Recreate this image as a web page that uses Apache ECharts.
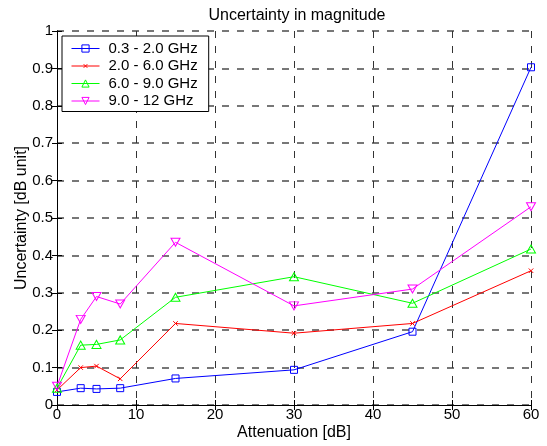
<!DOCTYPE html>
<html>
<head>
<meta charset="utf-8">
<script src="https://cdn.jsdelivr.net/npm/echarts@6/dist/echarts.min.js"></script>
<style>html,body{margin:0;padding:0;background:#fff;}#c{width:547px;height:446px;}</style>
</head>
<body>
<div id="c"></div>
<script>
const attenuation = [0, 3, 5, 8, 15, 30, 45, 60];
const band1 = [0.035, 0.045, 0.043, 0.045, 0.071, 0.094, 0.196, 0.903];
const band2 = [0.040, 0.100, 0.104, 0.070, 0.218, 0.192, 0.218, 0.359];
const band3 = [0.045, 0.160, 0.162, 0.174, 0.288, 0.343, 0.272, 0.417];
const band4 = [0.050, 0.229, 0.290, 0.270, 0.435, 0.265, 0.310, 0.530];
const seriesNames = ['0.3 - 2.0 GHz', '2.0 - 6.0 GHz', '6.0 - 9.0 GHz', '9.0 - 12 GHz'];

const font = 'Liberation Sans, Arial, sans-serif';
const chart = echarts.init(document.getElementById('c'));

function mk(name, vals, color, symbol, size) {
  return {
    name: name, type: 'line', xAxisIndex: 0, yAxisIndex: 0,
    data: attenuation.map((x, i) => [x, vals[i]]),
    symbol: symbol, symbolSize: size, showAllSymbol: true,
    lineStyle: { color: color, width: 1 },
    itemStyle: { color: 'rgba(255,255,255,0)', borderColor: color, borderWidth: 1 },
    emphasis: { disabled: true },
    animation: false, z: 3
  };
}

const axisCommon = {
  axisLine: { show: true, lineStyle: { color: '#000', width: 1 } },
  axisTick: { show: true, inside: true, length: 5, lineStyle: { color: '#000' } }
};

chart.setOption({
  animation: false,
  backgroundColor: '#fff',
  title: {
    text: 'Uncertainty in magnitude', left: 292, top: 3, textAlign: 'center',
    textStyle: { fontFamily: font, fontSize: 16, fontWeight: 'normal', color: '#000' }
  },
  legend: {
    left: 62, top: 36, orient: 'vertical', itemGap: 2.5, itemWidth: 28, itemHeight: 9,
    padding: [5, 11, 3, 9],
    borderColor: '#000', borderWidth: 1, backgroundColor: '#fff',
    lineStyle: { width: 1 },
    itemStyle: { borderWidth: 1 },
    textStyle: { fontFamily: font, fontSize: 15, color: '#000', padding: [0, 0, 0, 4] },
    data: seriesNames
  },
  grid: { left: 57, right: 16, top: 31, bottom: 41, containLabel: false },
  xAxis: [
    Object.assign({
      type: 'value', min: 0, max: 60, interval: 10, position: 'bottom',
      name: 'Attenuation [dB]', nameLocation: 'middle', nameGap: 20, nameMoveOverlap: false,
      nameTextStyle: { fontFamily: font, fontSize: 16, color: '#000' },
      axisLabel: { fontFamily: font, fontSize: 15, color: '#000', margin: 2 },
      splitLine: { show: true, lineStyle: { color: '#333', type: [7, 8], width: 1 } }
    }, axisCommon),
    Object.assign({
      type: 'value', min: 0, max: 60, interval: 10, position: 'top',
      axisLabel: { show: false }, splitLine: { show: false }
    }, axisCommon)
  ],
  yAxis: [
    Object.assign({
      type: 'value', min: 0, max: 1, interval: 0.1, position: 'left',
      name: 'Uncertainty [dB unit]', nameLocation: 'middle', nameGap: 27, nameMoveOverlap: false,
      nameTextStyle: { fontFamily: font, fontSize: 16, color: '#000' },
      axisLabel: { fontFamily: font, fontSize: 15, color: '#000', margin: 4 },
      splitLine: { show: true, lineStyle: { color: '#777', type: [7, 8], width: 2 } }
    }, axisCommon),
    Object.assign({
      type: 'value', min: 0, max: 1, interval: 0.1, position: 'right',
      axisLabel: { show: false }, splitLine: { show: false }
    }, axisCommon)
  ],
  series: [
    mk(seriesNames[0], band1, '#0000ff', 'rect', 7),
    mk(seriesNames[1], band2, '#ff0000', 'path://M-5,-5M0,0L10,10M10,0L0,10M15,15', 9),
    mk(seriesNames[2], band3, '#00ff00', 'path://M0,17L10,0L20,17Z', [9, 8]),
    mk(seriesNames[3], band4, '#ff00ff', 'path://M0,0L20,0L10,17Z', [9, 8])
  ]
});
</script>
</body>
</html>
